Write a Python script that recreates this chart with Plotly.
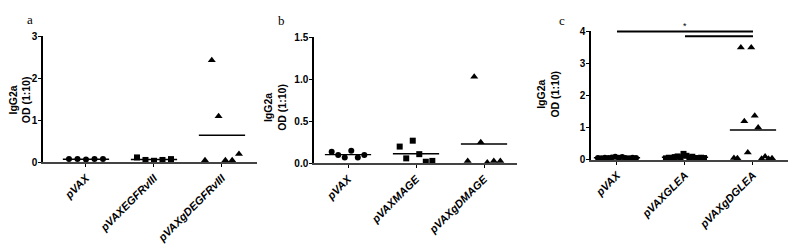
import plotly.graph_objects as go
import numpy as np

# ---------------- data ----------------
a_groups = ["pVAX", "pVAXEGFRvIII", "pVAXgDEGFRvIII"]
a_values = [
    [0.08, 0.08, 0.07, 0.08, 0.08],
    [0.12, 0.06, 0.04, 0.06, 0.08],
    [0.05, 2.43, 1.10, 0.05, 0.05, 0.20],
]
a_ticks = [0, 1, 2, 3]
a_ticklabels = ["0", "1", "2", "3"]

b_groups = ["pVAX", "pVAXMAGE", "pVAXgDMAGE"]
b_values = [
    [0.14, 0.10, 0.07, 0.15, 0.07, 0.10],
    [0.20, 0.06, 0.27, 0.11, 0.02, 0.03],
    [0.03, 1.03, 0.25, 0.01, 0.03, 0.03],
]
b_ticks = [0, 0.5, 1.0, 1.5]
b_ticklabels = ["0.0", "0.5", "1.0", "1.5"]

c_groups = ["pVAX", "pVAXGLEA", "pVAXgDGLEA"]
c_values = [
    [0.05, 0.04, 0.06, 0.05, 0.07, 0.09, 0.06, 0.08, 0.05, 0.04, 0.06, 0.05],
    [0.04, 0.06, 0.05, 0.08, 0.10, 0.07, 0.18, 0.12, 0.06, 0.09, 0.05, 0.04, 0.06, 0.05],
    [0.05, 0.04, 3.50, 1.20, 0.22, 3.50, 1.37, 1.00, 0.03, 0.10, 0.03, 0.04],
]
c_ticks = [0, 1, 2, 3, 4]
c_ticklabels = ["0", "1", "2", "3", "4"]
# significance comparisons in panel c: (group i, group j, bar level)
c_sig = [(0, 2, 4.0), (1, 2, 3.85)]
c_sig_label = "*"

panel_letters = ["a", "b", "c"]
y_title = "IgG2a<br>OD (1:10)"
symbols = ["circle", "square", "triangle-up"]

# ---------------- layout helpers ----------------
W, H = 800, 244
def px2x(p): return p / W
def px2y(p): return 1 - p / H

panels = [
    dict(groups=a_groups, values=a_values, ticks=a_ticks, labels=a_ticklabels,
         x0=43, x1=257, ybot=166, ytop=32, yr=[0, 3], xr=[-0.632, 2.515], spread=0.25,
         letter_xy=(30, 14), title_xy=(20, 100)),
    dict(groups=b_groups, values=b_values, ticks=b_ticks, labels=b_ticklabels,
         x0=314, x1=517, ybot=167, ytop=33, yr=[0, 1.5], xr=[-0.5, 2.485], spread=0.24,
         letter_xy=(281, 15), title_xy=(275, 108)),
    dict(groups=c_groups, values=c_values, ticks=c_ticks, labels=c_ticklabels,
         x0=591, x1=788, ybot=163, ytop=27, yr=[0, 4], xr=[-0.382, 2.515], spread=0.28,
         letter_xy=(562, 15), title_xy=(548, 94)),
]

fig = go.Figure()
annotations = []
shapes = []
layout = {}

for k, p in enumerate(panels):
    sfx = "" if k == 0 else str(k + 1)
    xa, ya = "x" + sfx, "y" + sfx
    for gi, vals in enumerate(p["values"]):
        n = len(vals)
        offs = np.linspace(-p["spread"], p["spread"], n) if n > 1 else np.zeros(1)
        fig.add_trace(go.Scatter(
            x=gi + offs, y=vals, mode="markers", xaxis=xa, yaxis=ya,
            marker=dict(symbol=symbols[gi], size=7 if gi == 2 else 6, color="black",
                        line=dict(width=0)),
            showlegend=False, cliponaxis=False))
        m = float(np.mean(vals))
        fig.add_trace(go.Scatter(
            x=[gi - 0.34, gi + 0.34], y=[m, m], mode="lines", xaxis=xa, yaxis=ya,
            line=dict(color="black", width=1.4), showlegend=False, cliponaxis=False))
    layout["xaxis" + sfx] = dict(
        domain=[px2x(p["x0"]), px2x(p["x1"])], range=p["xr"], anchor=ya,
        tickmode="array", tickvals=list(range(len(p["groups"]))), ticktext=p["groups"],
        tickangle=-45, ticks="outside", ticklen=3, tickwidth=1, tickcolor="black",
        tickfont=dict(family="Liberation Sans, Arial", size=11, color="black",
                      style="italic", weight="bold"),
        showline=True, linecolor="#444", linewidth=2, showgrid=False, zeroline=False,
        fixedrange=True)
    layout["yaxis" + sfx] = dict(
        domain=[px2y(p["ybot"]), px2y(p["ytop"])], range=p["yr"], anchor=xa,
        tickmode="array", tickvals=p["ticks"], ticktext=p["labels"],
        ticks="outside", ticklen=3, tickwidth=1, tickcolor="black", ticklabelstandoff=-1,
        tickfont=dict(family="Liberation Sans, Arial", size=10, color="black", weight="bold"),
        showline=True, linecolor="black", linewidth=1.5, showgrid=False, zeroline=False,
        fixedrange=True)
    lx, ly = p["letter_xy"]
    annotations.append(dict(x=px2x(lx), y=px2y(ly), xref="paper", yref="paper",
                            xanchor="center", yanchor="middle",
                            text=panel_letters[k], showarrow=False,
                            font=dict(family="Liberation Serif, Times New Roman", size=13,
                                      color="black")))
    tx, ty = p["title_xy"]
    annotations.append(dict(x=px2x(tx), y=px2y(ty), xref="paper", yref="paper",
                            xanchor="center", yanchor="middle",
                            text=y_title, showarrow=False, textangle=-90,
                            font=dict(family="Liberation Sans, Arial", size=10.5,
                                      color="black", weight="bold")))

# significance bars (panel c): y converted to paper coords so they are not clipped
pc = panels[2]
d0, d1 = px2y(pc["ybot"]), px2y(pc["ytop"])
r0, r1 = pc["yr"]
def yc_paper(v): return d0 + (v - r0) / (r1 - r0) * (d1 - d0)
for (i, j, lvl) in c_sig:
    yp = yc_paper(lvl)
    shapes.append(dict(type="line", xref="x3", yref="paper", x0=i, x1=j, y0=yp, y1=yp,
                       line=dict(color="black", width=2)))
i0, j0, l0 = c_sig[0]
annotations.append(dict(x=(i0 + j0) / 2, y=yc_paper(l0), xref="x3", yref="paper",
                        text=c_sig_label, showarrow=False, xanchor="center",
                        yanchor="bottom", yshift=-2,
                        font=dict(family="Liberation Sans, Arial", size=9, color="black")))

fig.update_layout(
    width=W, height=H, margin=dict(l=0, r=0, t=0, b=0),
    paper_bgcolor="white", plot_bgcolor="white",
    annotations=annotations, shapes=shapes, **layout)

post = ("var s=document.createElement('style');"
        "s.textContent='html,body{margin:0;padding:0;height:244px;width:800px;overflow:hidden;}"
        "body>div{height:244px;overflow:hidden;line-height:0;font-size:0;}';"
        "document.head.appendChild(s);")
fig.write_html("out.html", config={"displayModeBar": False}, post_script=post)
